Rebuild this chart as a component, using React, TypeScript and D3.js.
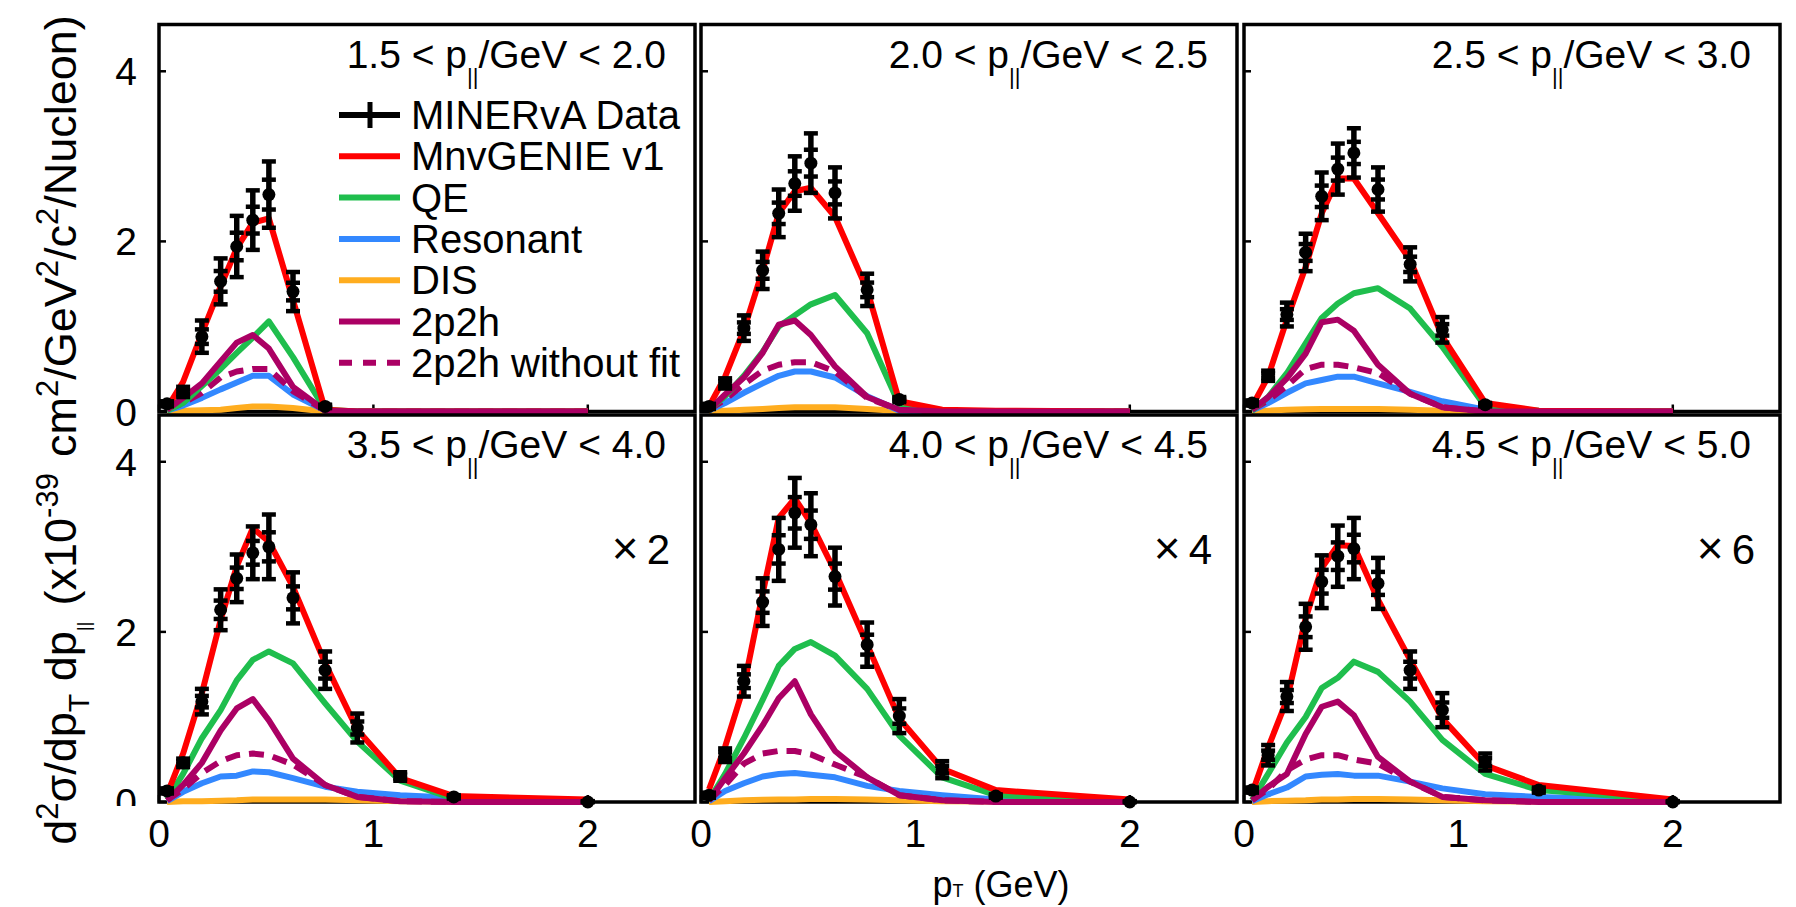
import React from "react";
import * as d3 from "d3";

// pT bin centres (GeV)
const ptCenters = [0.0375, 0.1125, 0.2, 0.2875, 0.3625, 0.4375, 0.5125, 0.625, 0.775, 0.925, 1.125, 1.375, 2.0];

const pllLow = ["1.5", "2.0", "2.5", "3.5", "4.0", "4.5"];
const pllHigh = ["2.0", "2.5", "3.0", "4.0", "4.5", "5.0"];
const scaleFactors = ["", "", "", "2", "4", "6"];

// MINERvA data (one row per panel)
const dataValues = [
  [0.09, 0.23, 0.88, 1.53, 1.94, 2.25, 2.55, 1.41, 0.06],
  [0.06, 0.33, 0.98, 1.66, 2.33, 2.68, 2.92, 2.57, 1.43, 0.14],
  [0.1, 0.42, 1.14, 1.87, 2.53, 2.85, 3.04, 2.61, 1.73, 0.96, 0.08],
  [0.13, 0.46, 1.18, 2.26, 2.63, 2.93, 3.0, 2.4, 1.55, 0.87, 0.3, 0.06, 0.0],
  [0.08, 0.55, 1.42, 2.35, 2.97, 3.4, 3.26, 2.65, 1.85, 1.01, 0.38, 0.07, 0.0],
  [0.14, 0.55, 1.24, 2.06, 2.59, 2.89, 2.98, 2.57, 1.55, 1.08, 0.47, 0.14, 0.0],
];
const dataErrors = [
  [0.03, 0.06, 0.19, 0.27, 0.36, 0.35, 0.39, 0.23, 0.02],
  [0.03, 0.06, 0.15, 0.22, 0.28, 0.32, 0.35, 0.3, 0.19, 0.03],
  [0.03, 0.06, 0.14, 0.22, 0.28, 0.3, 0.29, 0.26, 0.2, 0.15, 0.02],
  [0.03, 0.05, 0.15, 0.24, 0.28, 0.31, 0.38, 0.3, 0.22, 0.17, 0.05, 0.02, 0.01],
  [0.03, 0.08, 0.18, 0.28, 0.37, 0.41, 0.37, 0.34, 0.26, 0.2, 0.1, 0.02, 0.01],
  [0.03, 0.12, 0.17, 0.27, 0.31, 0.36, 0.36, 0.3, 0.22, 0.2, 0.1, 0.03, 0.01],
];

const mnvGenie = [
  [0.04, 0.35, 0.92, 1.47, 1.92, 2.22, 2.27, 1.31, 0.02, 0, 0, 0, 0],
  [0.06, 0.41, 0.96, 1.66, 2.33, 2.59, 2.63, 2.29, 1.43, 0.12, 0.02, 0.01, 0],
  [0.06, 0.41, 1.08, 1.7, 2.33, 2.74, 2.74, 2.33, 1.78, 0.88, 0.1, 0.01, 0],
  [0.09, 0.57, 1.28, 2.14, 2.77, 3.22, 3.06, 2.53, 1.63, 0.85, 0.28, 0.07, 0.03],
  [0.15, 0.65, 1.36, 2.45, 3.34, 3.57, 3.28, 2.71, 1.85, 0.98, 0.39, 0.14, 0.03],
  [0.1, 0.64, 1.2, 2.16, 2.75, 3.02, 3.01, 2.38, 1.67, 0.98, 0.43, 0.2, 0.03],
];
const qe = [
  [0.01, 0.1, 0.3, 0.5, 0.69, 0.87, 1.06, 0.64, 0.02, 0, 0, 0, 0],
  [0.02, 0.18, 0.42, 0.7, 1.0, 1.13, 1.26, 1.37, 0.92, 0.08, 0.01, 0, 0],
  [0.01, 0.17, 0.45, 0.8, 1.1, 1.27, 1.39, 1.45, 1.21, 0.76, 0.06, 0.01, 0],
  [0.03, 0.33, 0.75, 1.08, 1.43, 1.67, 1.77, 1.63, 1.16, 0.71, 0.25, 0.04, 0.02],
  [0.02, 0.33, 0.75, 1.2, 1.6, 1.8, 1.88, 1.72, 1.33, 0.78, 0.29, 0.08, 0.02],
  [0.02, 0.33, 0.7, 1.0, 1.34, 1.46, 1.65, 1.53, 1.18, 0.73, 0.33, 0.14, 0.02],
];
const resonant = [
  [0.01, 0.07, 0.16, 0.26, 0.34, 0.42, 0.42, 0.2, 0.01, 0, 0, 0, 0],
  [0.01, 0.1, 0.22, 0.33, 0.42, 0.47, 0.47, 0.4, 0.18, 0.01, 0, 0, 0],
  [0.01, 0.1, 0.22, 0.33, 0.37, 0.41, 0.41, 0.33, 0.23, 0.12, 0.02, 0, 0],
  [0.01, 0.12, 0.22, 0.3, 0.31, 0.36, 0.35, 0.28, 0.18, 0.12, 0.08, 0.05, 0.01],
  [0.01, 0.13, 0.22, 0.3, 0.33, 0.34, 0.32, 0.29, 0.19, 0.13, 0.08, 0.03, 0.01],
  [0.01, 0.09, 0.17, 0.3, 0.32, 0.33, 0.31, 0.31, 0.24, 0.16, 0.09, 0.06, 0.01],
];
const dis = [
  [0.005, 0.01, 0.015, 0.02, 0.04, 0.06, 0.06, 0.04, 0, 0, 0, 0, 0],
  [0.005, 0.01, 0.02, 0.03, 0.04, 0.05, 0.05, 0.05, 0.03, 0.005, 0, 0, 0],
  [0.005, 0.01, 0.02, 0.025, 0.03, 0.03, 0.03, 0.03, 0.02, 0.01, 0, 0, 0],
  [0, 0.01, 0.01, 0.015, 0.02, 0.03, 0.03, 0.03, 0.03, 0.02, 0.01, 0.005, 0],
  [0, 0.01, 0.02, 0.025, 0.03, 0.03, 0.035, 0.035, 0.03, 0.02, 0.01, 0.005, 0],
  [0, 0.01, 0.015, 0.02, 0.03, 0.03, 0.035, 0.035, 0.03, 0.02, 0.01, 0.005, 0],
];
const mec = [
  [0.02, 0.16, 0.33, 0.59, 0.81, 0.9, 0.74, 0.29, 0.01, 0, 0, 0, 0],
  [0.02, 0.2, 0.4, 0.69, 1.02, 1.07, 0.9, 0.53, 0.17, 0.02, 0, 0, 0],
  [0.02, 0.17, 0.39, 0.68, 1.05, 1.08, 0.95, 0.55, 0.21, 0.05, 0, 0, 0],
  [0.02, 0.2, 0.46, 0.84, 1.1, 1.21, 0.96, 0.51, 0.2, 0.06, 0.01, 0, 0],
  [0.02, 0.28, 0.57, 0.9, 1.22, 1.42, 1.03, 0.6, 0.29, 0.08, 0.02, 0, 0],
  [0.02, 0.18, 0.33, 0.8, 1.12, 1.18, 1.02, 0.53, 0.24, 0.06, 0.02, 0, 0],
];
const mecNoFit = [
  [0.02, 0.1, 0.22, 0.4, 0.47, 0.5, 0.5, 0.24, 0.01, 0, 0, 0, 0],
  [0.02, 0.14, 0.32, 0.48, 0.55, 0.58, 0.58, 0.47, 0.16, 0.02, 0, 0, 0],
  [0.02, 0.13, 0.3, 0.5, 0.55, 0.55, 0.52, 0.45, 0.21, 0.05, 0, 0, 0],
  [0.02, 0.15, 0.34, 0.48, 0.55, 0.57, 0.55, 0.44, 0.2, 0.06, 0.01, 0, 0],
  [0.02, 0.2, 0.45, 0.57, 0.6, 0.6, 0.56, 0.44, 0.29, 0.08, 0.02, 0, 0],
  [0.02, 0.15, 0.37, 0.5, 0.55, 0.55, 0.5, 0.45, 0.24, 0.06, 0.02, 0, 0],
];

const FONT = "'Liberation Sans', Arial, Helvetica, sans-serif";
const RED = "#ff0000";
const GREEN = "#1fbe4d";
const BLUE = "#3388ff";
const ORANGE = "#ffad1f";
const PURPLE = "#ab0064";

// drawing order: bottom to top
const models = [
  { name: "DIS", rows: dis, color: ORANGE, dash: null },
  { name: "Resonant", rows: resonant, color: BLUE, dash: null },
  { name: "2p2h without fit", rows: mecNoFit, color: PURPLE, dash: "15 9" },
  { name: "QE", rows: qe, color: GREEN, dash: null },
  { name: "MnvGENIE v1", rows: mnvGenie, color: RED, dash: null },
  { name: "2p2h", rows: mec, color: PURPLE, dash: null },
];
const legendOrder = ["MnvGENIE v1", "QE", "Resonant", "DIS", "2p2h", "2p2h without fit"];

const colLeft = [159, 701, 1244];
const rowBottom = [411.5, 802];
const panelW = 536;
const panelH = 387;

const Panel = ({ idx }: { idx: number }) => {
  const col = idx % 3;
  const row = Math.floor(idx / 3);
  const left = colLeft[col];
  const bottom = rowBottom[row];
  const top = bottom - panelH;
  const right = left + panelW;
  const x = d3.scaleLinear().domain([0, 2.5]).range([left, right]);
  const y = d3.scaleLinear().domain([0, 4.55]).range([bottom, top]);
  const line = d3
    .line<number>()
    .x((_, i) => x(ptCenters[i]))
    .y((d) => y(d));

  return (
    <g>
      <rect x={left} y={top} width={panelW} height={panelH} fill="white" stroke="black" strokeWidth={3.5} />
      {[0, 2, 4].map((t) => (
        <line key={"yt" + t} x1={left} x2={left + 7} y1={y(t)} y2={y(t)} stroke="black" strokeWidth={2.5} />
      ))}
      {[0, 1, 2].map((t) => (
        <line key={"xt" + t} x1={x(t)} x2={x(t)} y1={bottom} y2={bottom - 7} stroke="black" strokeWidth={2.5} />
      ))}
      {models.map((m) => (
        <path
          key={m.name}
          d={line(m.rows[idx]) || ""}
          fill="none"
          stroke={m.color}
          strokeWidth={6}
          strokeDasharray={m.dash || undefined}
          strokeLinejoin="round"
        />
      ))}
      {dataValues[idx].map((v, i) => {
        const e = dataErrors[idx][i];
        const cx = x(ptCenters[i]);
        const lo = y(Math.max(0, v - e));
        const hi = y(v + e);
        const sLo = y(Math.max(0, v - 0.45 * e));
        const sHi = y(v + 0.45 * e);
        return (
          <g key={"d" + i}>
            <line x1={cx} x2={cx} y1={lo} y2={hi} stroke="black" strokeWidth={5.5} />
            {[lo, hi, sLo, sHi].map((yy, k) => (
              <line key={k} x1={cx - 7} x2={cx + 7} y1={yy} y2={yy} stroke="black" strokeWidth={4.5} />
            ))}
            <circle cx={cx} cy={y(v)} r={6.5} fill="black" />
          </g>
        );
      })}
      <text x={right - 29} y={top + 43} textAnchor="end" fontSize={39}>
        {`${pllLow[idx]} < p`}
        <tspan fontSize={22} dy={16}>||</tspan>
        <tspan dy={-16}>{`/GeV < ${pllHigh[idx]}`}</tspan>
      </text>
      {scaleFactors[idx] && (
        <text x={right - 25} y={top + 149} textAnchor="end" fontSize={42}>
          <tspan fontSize={46}>{"\u00d7"}</tspan>
          <tspan dx={8}>{scaleFactors[idx]}</tspan>
        </text>
      )}
      {col === 0 &&
        [0, 2, 4].map((t) => (
          <text
            key={"yl" + t}
            x={137}
            y={y(t) + 14}
            textAnchor="end"
            fontSize={39}
            clipPath={row === 1 && t === 0 ? "url(#zeroClip)" : undefined}
          >
            {t}
          </text>
        ))}
      {row === 1 &&
        [0, 1, 2].map((t) => (
          <text key={"xl" + t} x={x(t)} y={847} textAnchor="middle" fontSize={39}>
            {t}
          </text>
        ))}
    </g>
  );
};

const Legend = () => {
  const x0 = 339;
  const x1 = 400;
  const yc = (i: number) => 115 + i * 41.3;
  return (
    <g>
      <line x1={x0} x2={x1} y1={yc(0)} y2={yc(0)} stroke="black" strokeWidth={6} />
      <line x1={370} x2={370} y1={yc(0) - 13} y2={yc(0) + 13} stroke="black" strokeWidth={5} />
      <text x={411} y={yc(0) + 14} fontSize={40}>MINERvA Data</text>
      {legendOrder.map((name, i) => {
        const m = models.find((s) => s.name === name)!;
        return (
          <g key={name}>
            <line
              x1={x0}
              x2={x1}
              y1={yc(i + 1)}
              y2={yc(i + 1)}
              stroke={m.color}
              strokeWidth={6}
              strokeDasharray={m.dash ? "13 11" : undefined}
            />
            <text x={411} y={yc(i + 1) + 14} fontSize={40}>{name}</text>
          </g>
        );
      })}
    </g>
  );
};

const App = () => {
  return (
    <svg
      width={1796}
      height={907}
      style={{ position: "absolute", left: 0, top: 0, background: "white" }}
      fontFamily={FONT}
    >
      <defs>
        <clipPath id="zeroClip">
          <rect x={100} y={770} width={60} height={36} />
        </clipPath>
      </defs>
      <rect x={0} y={0} width={1796} height={907} fill="white" />
      {[0, 1, 2, 3, 4, 5].map((i) => (
        <Panel key={i} idx={i} />
      ))}
      <Legend />
      <text transform="translate(76,430) rotate(-90)" textAnchor="middle" fontSize={45}>
        d<tspan fontSize={31} dy={-18}>2</tspan>
        <tspan dy={18}>σ/dp</tspan>
        <tspan fontSize={30} dy={13}>T</tspan>
        <tspan dy={-13}> dp</tspan>
        <tspan fontSize={19} dy={14}>||</tspan>
        <tspan dy={-14} dx={16}>(x10</tspan>
        <tspan fontSize={31} dy={-18}>-39</tspan>
        <tspan dy={18} dx={16}>cm</tspan>
        <tspan fontSize={31} dy={-18}>2</tspan>
        <tspan dy={18}>/GeV</tspan>
        <tspan fontSize={31} dy={-18}>2</tspan>
        <tspan dy={18}>/c</tspan>
        <tspan fontSize={31} dy={-18}>2</tspan>
        <tspan dy={18}>/Nucleon)</tspan>
      </text>
      <text x={1001} y={897} textAnchor="middle" fontSize={36}>
        p<tspan fontSize={18}>T</tspan> (GeV)
      </text>
    </svg>
  );
};

export default App;
